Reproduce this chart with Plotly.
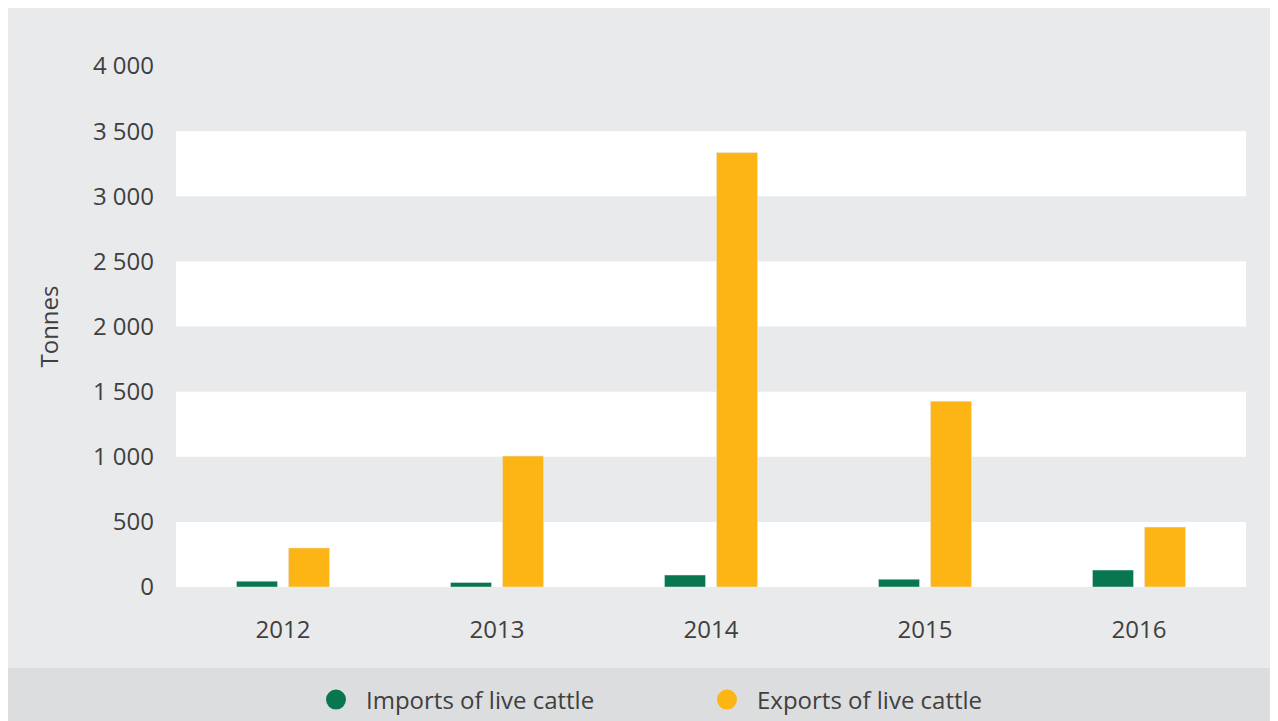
import plotly.graph_objects as go

years = ["2012", "2013", "2014", "2015", "2016"]
imports = [45, 35, 92, 60, 130]
exports = [300, 1005, 3336, 1427, 460]
y_ticks = [0, 500, 1000, 1500, 2000, 2500, 3000, 3500, 4000]

GREEN = "#08774f"
YELLOW = "#fdb515"
BG = "#e9eaec"
LEG_BG = "#dcdddf"
TXT = "#404040"

fig = go.Figure()
fig.add_trace(go.Bar(x=years, y=imports, marker_color=GREEN, name="Imports of live cattle", showlegend=False))
fig.add_trace(go.Bar(x=years, y=exports, marker_color=YELLOW, name="Exports of live cattle", showlegend=False))
fig.add_trace(go.Scatter(x=[None], y=[None], mode="markers",
                         marker=dict(symbol="circle", size=18, color=GREEN, line=dict(color=GREEN, width=4)),
                         name="Imports of live cattle"))
fig.add_trace(go.Scatter(x=[None], y=[None], mode="markers",
                         marker=dict(symbol="circle", size=18, color=YELLOW, line=dict(color=YELLOW, width=4)),
                         name="Exports of live cattle"))

# figure is placed at (8, 8) in the page by the body margin
W, H = 1278, 713
L, R, T, B = 168, 40, 58, 134
pw, ph = W - L - R, H - T - B

def px_x(p):
    return (p - L) / pw

def px_y(p):
    return (H - B - p) / ph

shapes = [
    dict(type="rect", xref="paper", yref="paper", x0=px_x(-5), x1=px_x(W + 5), y0=px_y(H + 5), y1=px_y(660),
         fillcolor=LEG_BG, line_width=0, layer="below"),
]
for lo in [0, 1000, 2000, 3000]:
    shapes.append(dict(type="rect", xref="paper", yref="y", x0=0, x1=1, y0=lo, y1=lo + 500,
                       fillcolor="white", line_width=0, layer="below"))

fig.update_layout(
    width=W, height=H,
    margin=dict(l=L, r=R, t=T, b=B, autoexpand=False),
    paper_bgcolor=BG,
    plot_bgcolor=BG,
    shapes=shapes,
    barmode="group",
    bargap=0.514,
    bargroupgap=0.21,
    separators=". ",
    font=dict(family="Open Sans", size=24, color=TXT),
    xaxis=dict(showgrid=False, showline=False, zeroline=False, ticks="", tickfont=dict(size=24), ticklabelstandoff=26),
    yaxis=dict(range=[0, 4000], tickvals=y_ticks, tickformat=",d", showgrid=False, zeroline=False,
               showline=False, ticks="", tickfont=dict(size=24), ticklabelstandoff=21,
               title=dict(text="Tonnes", font=dict(size=24), standoff=27)),
    legend=dict(orientation="h", x=px_x(298), xanchor="left", y=px_y(692), yanchor="middle",
                bgcolor="rgba(0,0,0,0)", font=dict(size=24), itemwidth=50,
                entrywidth=326, entrywidthmode="pixels"),
)

fig.write_html("out.html")
